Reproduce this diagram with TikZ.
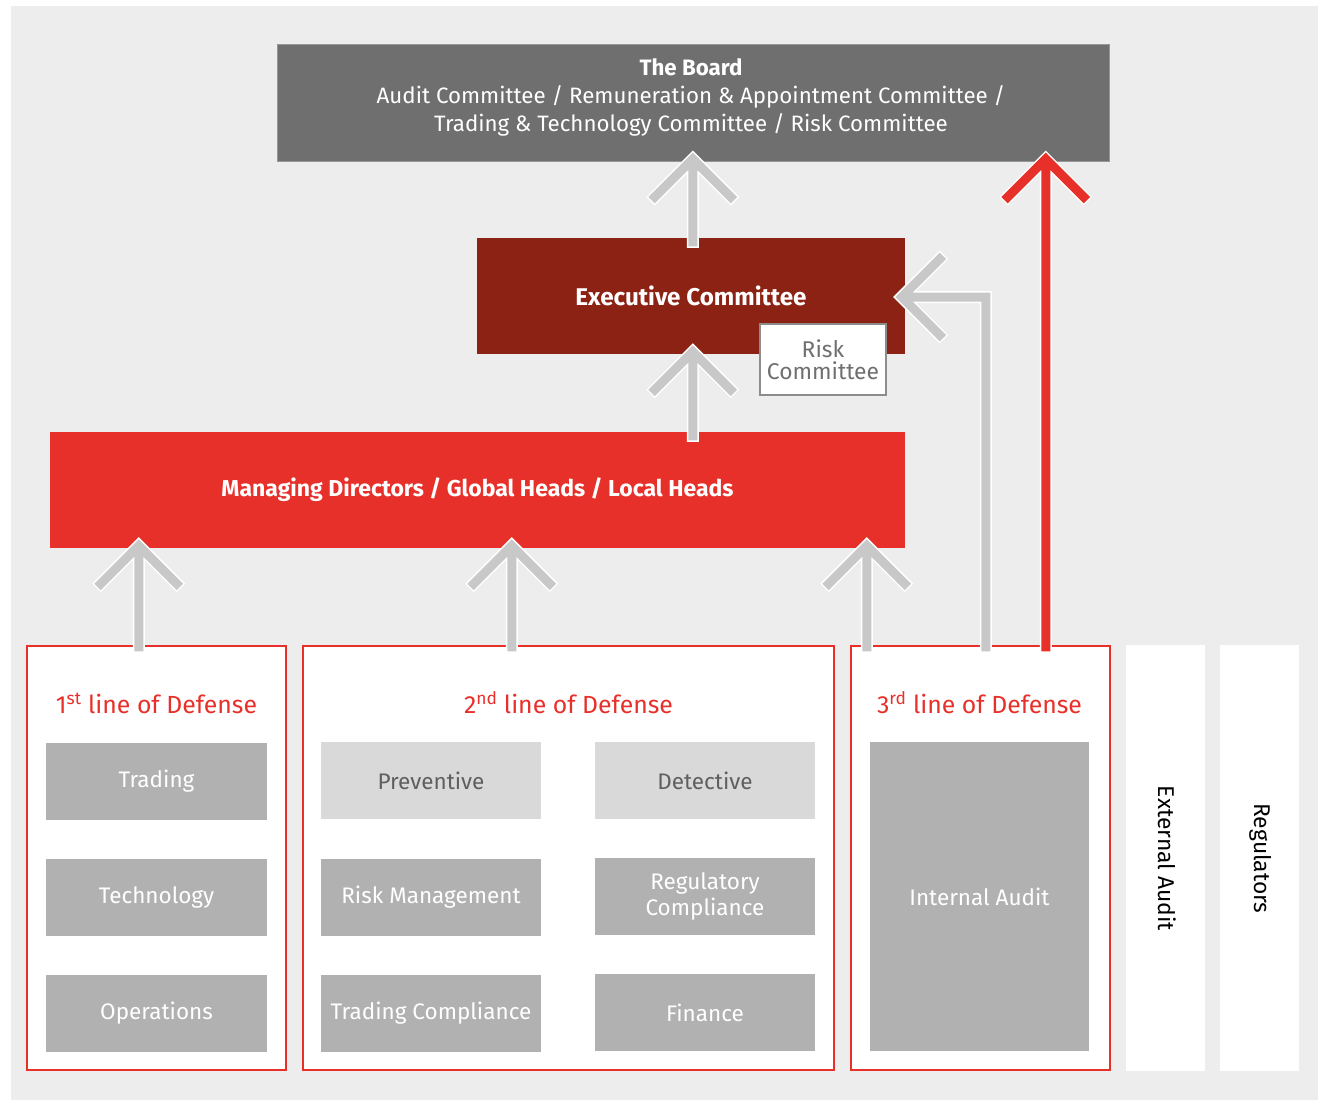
\documentclass[tikz,border=0pt]{standalone}
\usepackage{fontspec}
\setmainfont{Fira Sans}
\usetikzlibrary{calc}

\definecolor{bggrey}{RGB}{237,237,237}
\definecolor{boardgrey}{RGB}{111,111,111}
\definecolor{execred}{RGB}{139,34,19}
\definecolor{mdred}{RGB}{232,48,42}
\definecolor{cellgrey}{RGB}{177,177,177}
\definecolor{lightcell}{RGB}{217,217,217}
\definecolor{textgrey}{RGB}{95,95,95}
\definecolor{arrowgrey}{RGB}{200,200,200}

\begin{document}
\begin{tikzpicture}[x=1pt,y=1pt,yscale=-1,xscale=1,
  box/.style={rectangle, inner sep=0pt, align=center},
  lodbox/.style={box, draw=mdred, line width=2.5, fill=white, minimum width=259, minimum height=424},
  sidebox/.style={box, fill=white, minimum width=79, minimum height=426},
  cell/.style={box, fill=cellgrey, text=white, minimum width=221, minimum height=77, font=\fontsize{22.5}{26}\selectfont},
  softcell/.style={cell, fill=lightcell, text=textgrey},
  lodtitle/.style={box, text=mdred, font=\fontsize{24.8}{30}\selectfont},
  greyarrow/.style={draw=arrowgrey, line width=9, line cap=rect, line join=miter,
    preaction={draw=white, line width=12, line cap=rect, line join=miter}},
  redarrow/.style={greyarrow, draw=mdred}
]
\useasboundingbox (0,0) rectangle (1323,1100);

%Shape: Rectangle [background]
\fill[bggrey] (11,6) rectangle (1318,1100);

%Shape: Rectangle [board]
\node[box, fill=boardgrey, draw={rgb,255:red,150;green,150;blue,150}, line width=1, minimum width=832, minimum height=117] (board) at (693,102.5) {};
% Text Node
\node[box, text=white, font=\fontsize{22.3}{28}\selectfont] (boardtext) at (691,97) {\textbf{The Board}\\Audit Committee / Remuneration \& Appointment Committee /\\Trading \& Technology Committee / Risk Committee};

%Shape: Rectangle [executive committee]
\node[box, fill=execred, text=white, minimum width=428, minimum height=116, font=\bfseries\fontsize{24.2}{28}\selectfont] (exec) at (691,296) {Executive Committee};
%Shape: Rectangle [risk committee]
\node[box, fill=white, draw={rgb,255:red,140;green,140;blue,140}, line width=1.2, text={rgb,255:red,111;green,111;blue,111}, minimum width=126, minimum height=71, font=\fontsize{22.8}{22}\selectfont] (riskcom) at (823,359.5) {Risk\\Committee};

%Shape: Rectangle [managing directors]
\node[box, fill=mdred, text=white, minimum width=855, minimum height=116, font=\bfseries\fontsize{23}{27}\selectfont] (md) at (477.5,490) {Managing Directors / Global Heads / Local Heads};

%Shape: Rectangle [lines of defense]
\node[lodbox] (lod1) at (156.5,858) {};
\node[lodbox, minimum width=531] (lod2) at (568.5,858) {};
\node[lodbox] (lod3) at (980.5,858) {};
\node[sidebox] (extaudit) at (1165.5,858) {};
\node[sidebox] (regul) at (1259.5,858) {};

% Text Node
\node[lodtitle] (title1) at (156.5,703) {1\textsuperscript{st} line of Defense};
\node[lodtitle] (title2) at (568.5,703) {2\textsuperscript{nd} line of Defense};
\node[lodtitle] (title3) at (979.5,703) {3\textsuperscript{rd} line of Defense};
\node[box, rotate=-90, font=\fontsize{22.8}{26}\selectfont] (extlbl) at (1167,858.5) {External Audit};
\node[box, rotate=-90, font=\fontsize{22.8}{26}\selectfont] (reglbl) at (1261,858.5) {Regulators};

%Shape: Rectangle [first line]
\node[cell] (trading) at (156.5,781) {Trading};
\node[cell] (technology) at (156.5,897) {Technology};
\node[cell] (operations) at (156.5,1013) {Operations};
%Shape: Rectangle [second line]
\node[softcell, minimum width=220] (preventive) at (431,780.5) {Preventive};
\node[softcell, minimum width=220] (detective) at (705,780.5) {Detective};
\node[cell, minimum width=220] (riskmgmt) at (431,897) {Risk Management};
\node[cell, minimum width=220] (regcomp) at (705,896.5) {Regulatory\\Compliance};
\node[cell, minimum width=220] (tradcomp) at (431,1013) {Trading Compliance};
\node[cell, minimum width=220] (finance) at (705,1012.5) {Finance};
%Shape: Rectangle [third line]
\node[cell, minimum width=219, minimum height=309] (intaudit) at (979.5,896.5) {Internal Audit};

%Straight Lines [arrows]
\path ($(lod1.north west)+(113,2)$) coordinate (a1s);
\path ($(a1s |- md.south)+(0,-2.5)$) coordinate (a1t);
\draw[greyarrow] (a1s) -- ($(a1t)+(0,5)$) (a1t) ++(-38,38) -- (a1t) -- ++(38,38);

\path ($(lod2.north west)+(210,2)$) coordinate (a2s);
\path ($(a2s |- md.south)+(0,-2.5)$) coordinate (a2t);
\draw[greyarrow] (a2s) -- ($(a2t)+(0,5)$) (a2t) ++(-38,38) -- (a2t) -- ++(38,38);

\path ($(lod3.north west)+(17,2)$) coordinate (a3s);
\path ($(a3s |- md.south)+(0,-2.5)$) coordinate (a3t);
\draw[greyarrow] (a3s) -- ($(a3t)+(0,5)$) (a3t) ++(-38,38) -- (a3t) -- ++(38,38);

\path ($(md.north west)+(643,4)$) coordinate (a4s);
\path ($(a4s |- exec.south)+(0,-2.5)$) coordinate (a4t);
\draw[greyarrow] (a4s) -- ($(a4t)+(0,5)$) (a4t) ++(-38,38) -- (a4t) -- ++(38,38);

\path ($(exec.north west)+(216,4)$) coordinate (a5s);
\path ($(a5s |- board.south)+(0,-2.5)$) coordinate (a5t);
\draw[greyarrow] (a5s) -- ($(a5t)+(0,5)$) (a5t) ++(-38,38) -- (a5t) -- ++(38,38);

\path ($(lod3.north west)+(136,2)$) coordinate (a6s);
\path ($(exec.east)+(-3.5,1)$) coordinate (a6t);
\draw[greyarrow] (a6s) |- ($(a6t)+(5,0)$) (a6t) ++(38,-38) -- (a6t) -- ++(38,38);

\path ($(lod3.north west)+(196,2)$) coordinate (a7s);
\path ($(a7s |- board.south)+(0,-2.5)$) coordinate (a7t);
\draw[redarrow] (a7s) -- ($(a7t)+(0,5)$) (a7t) ++(-38,38) -- (a7t) -- ++(38,38);

\end{tikzpicture}
\end{document}
